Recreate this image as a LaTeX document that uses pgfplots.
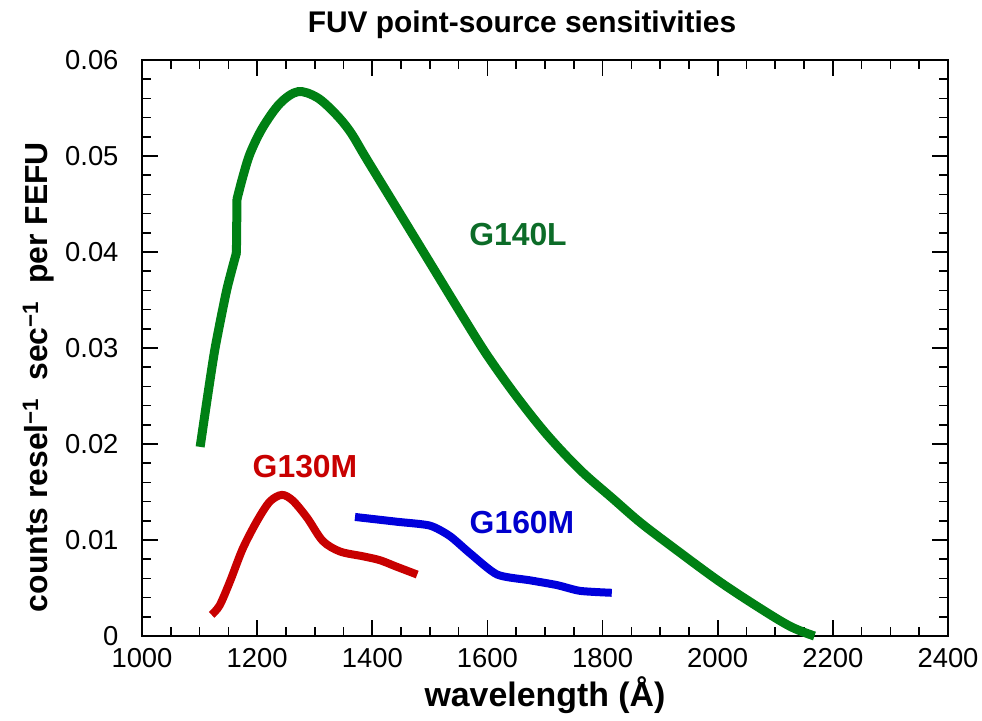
\documentclass[border=0pt]{standalone}
\usepackage{fontspec}
\setmainfont{Liberation Sans}
\usepackage{pgfplots}
\pgfplotsset{compat=1.18}
\definecolor{gline}{RGB}{0,128,20}
\definecolor{glab}{RGB}{12,108,40}
\definecolor{rline}{RGB}{200,0,0}
\definecolor{bline}{RGB}{0,0,220}
\definecolor{blab}{RGB}{0,0,205}
\begin{document}
\begin{tikzpicture}
\begin{axis}[
  name=ax,
  scale only axis,
  width=806bp, height=576bp,
  xmin=1000, xmax=2400, ymin=0, ymax=0.06,
  xtick={1000,1200,1400,1600,1800,2000,2200,2400},
  xticklabels={1000,1200,1400,1600,1800,2000,2200,2400},
  ytick={0,0.01,0.02,0.03,0.04,0.05,0.06},
  yticklabels={0,0.01,0.02,0.03,0.04,0.05,0.06},
  scaled y ticks=false,
  scaled x ticks=false,
  minor x tick num=3,
  minor y tick num=4,
  tick align=inside,
  major tick length=16bp,
  minor tick length=9bp,
  every tick/.style={black, line width=1.6bp},
  axis line style={line width=2.4bp, black},
  ticklabel style={font=\fontsize{27.5}{28}\selectfont},
  xticklabel style={yshift=-9bp},
  yticklabel style={xshift=-20bp},
  clip=false,
]
% G140L lower part
\addplot[gline, line width=9bp, smooth, tension=0.4] coordinates {
(1101,0.0197) (1114,0.0250) (1127,0.0300) (1147,0.0360) (1164,0.0399)
};
% G140L step
\addplot[gline, line width=9bp, line cap=round] coordinates {
(1164,0.0399) (1165,0.0455)
};
% G140L upper part
\addplot[gline, line width=9bp, smooth, tension=0.55] coordinates {
(1165,0.0455) (1175,0.0478) (1188,0.0503) (1210,0.0530) (1240,0.0555)
(1271,0.0567) (1304,0.0561) (1336,0.0544) (1362,0.0525) (1390,0.0497)
(1443,0.0445) (1500,0.0389) (1558,0.0332) (1600,0.0292) (1650,0.0250)
(1703,0.0210) (1761,0.0173) (1818,0.0143) (1866,0.0118) (1923,0.0092)
(2000,0.0058) (2068,0.0031) (2126,0.0010) (2168,0.0000)
};
\addplot[rline, line width=8bp, smooth, tension=0.5] coordinates {
(1121,0.0022) (1135,0.0032) (1153,0.0057) (1175,0.0091) (1200,0.0120)
(1222,0.0140) (1243,0.0147) (1262,0.0141) (1287,0.0123) (1314,0.0099)
(1344,0.0088) (1384,0.0083) (1413,0.0079) (1443,0.0072) (1478,0.0064)
};
\addplot[bline, line width=8bp, smooth, tension=0.4] coordinates {
(1370,0.0124) (1443,0.0119) (1500,0.0115) (1535,0.0104) (1570,0.0086)
(1617,0.0064) (1674,0.0058) (1721,0.0053) (1761,0.0047) (1816,0.0045)
};
\end{axis}
\begin{scope}[shift={(ax.south west)}, x=1bp, y=1bp]
\node[font=\bfseries\fontsize{32}{32}\selectfont, text=glab] at (376,401) {G140L};
\node[font=\bfseries\fontsize{32}{32}\selectfont, text=rline] at (163,169) {G130M};
\node[font=\bfseries\fontsize{32}{32}\selectfont, text=blab] at (380,113) {G160M};
\node[font=\bfseries\fontsize{30}{30}\selectfont, anchor=base] at (380,603) {FUV point-source sensitivities};
\node[font=\bfseries\fontsize{34}{34}\selectfont, anchor=base] at (403,-70) {wavelength (Å)};
\node[font=\bfseries\fontsize{32}{32}\selectfont, anchor=base, rotate=90] at (-95,259) {counts resel\textsuperscript{−1}\ \ sec\textsuperscript{−1}\ \ per FEFU};
\end{scope}
\pgfresetboundingbox
\path[use as bounding box] ([shift={(-142bp,-85bp)}]ax.south west) rectangle ([shift={(34bp,60bp)}]ax.north east);
\end{tikzpicture}
\end{document}
